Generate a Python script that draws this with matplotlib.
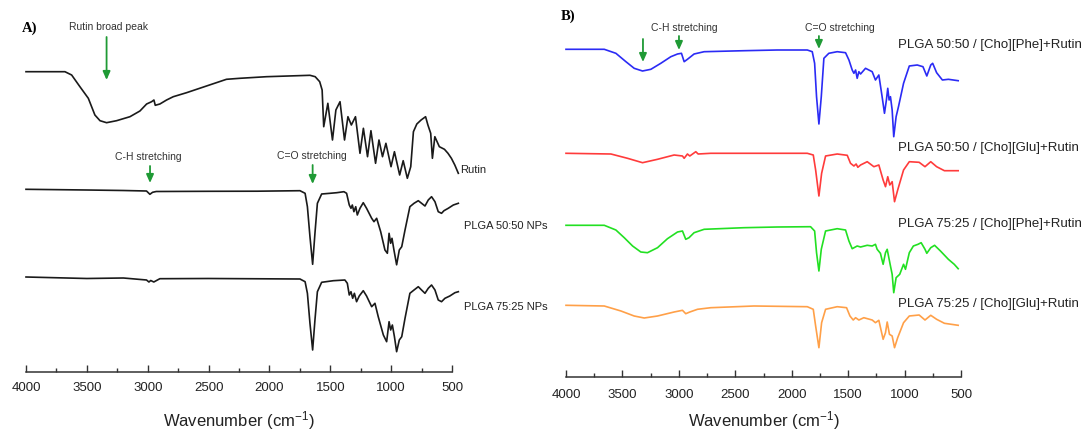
import matplotlib
matplotlib.use('Agg')
import matplotlib.pyplot as plt
from matplotlib.ticker import MultipleLocator

plt.rcParams['font.family'] = ['Liberation Sans', 'DejaVu Sans']
plt.rcParams['mathtext.fontset'] = 'custom'
plt.rcParams['mathtext.rm'] = 'Liberation Sans'
plt.rcParams['mathtext.it'] = 'Liberation Sans:italic'

# spectra: (wavenumber cm-1, depth below baseline, a.u.)
rutin = [
    (4000, 0), (3680, 0), (3625, 3.3), (3557, 15), (3488, 26.6), (3434, 43.3), (3392, 49),
    (3338, 51), (3256, 49), (3146, 45), (3064, 39.3), (3009, 32.3), (2968, 30), (2949, 28.3),
    (2938, 33.6), (2900, 32.3), (2845, 28.3), (2790, 25), (2681, 21), (2517, 14.3), (2353, 7.6),
    (2243, 6.6), (2024, 5), (1667, 3.6), (1624, 5), (1587, 10), (1567, 18.3), (1554, 55),
    (1520, 31.6), (1482, 68.3), (1454, 38.3), (1420, 30), (1383, 68.3), (1355, 45), (1327, 53.3),
    (1293, 45), (1256, 81.6), (1228, 56.6), (1194, 85), (1166, 59), (1128, 91.6), (1100, 68.3),
    (1071, 85), (1043, 71.6), (1001, 95), (973, 80), (930, 103.3), (901, 89), (867, 106.6),
    (839, 95), (817, 60), (789, 52.3), (754, 48.3), (717, 45), (698, 53.3), (675, 61.6),
    (661, 86.6), (641, 65), (604, 75), (562, 77.6), (533, 81.6), (505, 86.6), (477, 93.3),
    (448, 101.6),
]
plga5050 = [
    (4000, 0), (3500, 0.7), (3200, 1.2), (3010, 1.7), (2982, 5), (2960, 3), (2930, 2.2),
    (2500, 2), (2100, 1.9), (1749, 1.4), (1707, 4), (1688, 17.4), (1667, 47.4), (1645, 75),
    (1626, 44), (1606, 14), (1571, 4.7), (1502, 4), (1447, 3.4), (1388, 2.4), (1366, 4),
    (1344, 15.7), (1330, 19), (1319, 15.7), (1306, 22.4), (1291, 17.4), (1278, 25.7), (1256, 19),
    (1229, 13.4), (1202, 19), (1160, 29), (1141, 32.4), (1119, 29), (1086, 42.4), (1051, 60.7),
    (1031, 64), (1017, 44), (1004, 54), (993, 49), (977, 60.7), (955, 75.5), (933, 60.7),
    (913, 57.4), (886, 40.7), (846, 17.4), (812, 14), (777, 11.4), (750, 14), (722, 16.7),
    (695, 10.7), (668, 7.4), (640, 12.4), (613, 22.4), (586, 24), (566, 21.4), (531, 19),
    (489, 15.7), (448, 14),
]
plga7525 = [
    (4000, 0), (3500, 1.5), (3200, 1), (3010, 3), (2990, 5), (2975, 3.5), (2950, 5), (2920, 3),
    (2900, 1.7), (2500, 1.5), (1749, 2), (1707, 4.7), (1688, 16.3), (1667, 46.3), (1645, 73),
    (1626, 43), (1606, 14.7), (1571, 5.3), (1475, 3.7), (1380, 3), (1360, 6.3), (1344, 18),
    (1330, 14.7), (1316, 21.3), (1302, 16.3), (1284, 24.7), (1262, 19), (1229, 13.7), (1202, 19),
    (1160, 29.7), (1133, 26.3), (1106, 39.7), (1064, 58), (1037, 64.7), (1017, 44.7), (1004, 53),
    (990, 48), (973, 59.7), (955, 74.7), (933, 63), (913, 59.7), (886, 41.3), (846, 16.3),
    (812, 13), (777, 9.7), (750, 13), (722, 16.3), (695, 11.3), (668, 8), (640, 13), (613, 23),
    (586, 24.7), (558, 21.3), (518, 19), (476, 15.7), (448, 14.7),
]
phe5050 = [
    (4000, 0), (3661, 0), (3558, 4), (3469, 12.4), (3396, 19), (3322, 21.7), (3248, 20),
    (3160, 14), (3071, 7.4), (3012, 4.7), (2977, 4), (2953, 12.4), (2924, 10), (2865, 4.7),
    (2776, 2.4), (2422, 1.4), (2128, 0.7), (1862, 0.7), (1818, 2.4), (1797, 14), (1780, 47.4),
    (1759, 74.7), (1738, 47.4), (1715, 9), (1671, 4), (1597, 2.4), (1523, 3.4), (1493, 10.7),
    (1464, 20.7), (1449, 24), (1434, 20.7), (1420, 29), (1405, 22.4), (1390, 24.7), (1346, 19),
    (1287, 22.4), (1258, 30.7), (1228, 25.7), (1199, 47.4), (1178, 64), (1161, 50.7), (1149, 39),
    (1137, 50.7), (1125, 47.4), (1110, 60.7), (1096, 87.4), (1075, 67.4), (1054, 57.4),
    (1009, 34), (958, 16.7), (888, 15.7), (837, 17.4), (803, 26.7), (768, 15.7), (751, 14),
    (716, 23.4), (665, 30.7), (612, 30), (525, 31.4),
]
glu5050 = [
    (4000, 0), (3602, 0.7), (3455, 5), (3322, 9.4), (3189, 6), (3042, 1.7), (2968, 2.7),
    (2953, 5), (2924, 0.7), (2903, 2.7), (2850, -1.6), (2829, 0.7), (2717, 0), (1862, 0),
    (1809, 1.7), (1788, 16.7), (1759, 42.7), (1735, 20), (1700, 2.7), (1597, 0.7), (1508, 2),
    (1479, 10), (1449, 12.7), (1429, 10.7), (1414, 14), (1390, 11.7), (1331, 8.4), (1272, 13.4),
    (1228, 11.7), (1190, 26.7), (1169, 33.4), (1149, 23.4), (1131, 31.7), (1110, 28.4),
    (1089, 48.4), (1061, 36.7), (1009, 16.7), (958, 8.4), (871, 9), (819, 13.4), (768, 8.4),
    (716, 13.4), (647, 17.4), (525, 17.4),
]
phe7525 = [
    (4000, 0), (3661, 0), (3558, 4.7), (3484, 12.4), (3410, 20.7), (3337, 26.7), (3278, 27.4),
    (3189, 22.4), (3101, 13.4), (3012, 6.7), (2968, 5.7), (2939, 14), (2910, 12.4), (2865, 7.4),
    (2776, 4), (2423, 2.4), (2128, 1.7), (1833, 1.4), (1797, 5.7), (1780, 27.4), (1759, 45.7),
    (1738, 24), (1700, 5.7), (1597, 3.4), (1523, 4.7), (1493, 15.7), (1464, 23.4), (1420, 20.7),
    (1390, 21.7), (1331, 20), (1287, 20.7), (1258, 19), (1243, 24), (1214, 28), (1190, 39),
    (1169, 27.4), (1154, 24), (1125, 40.7), (1110, 49), (1096, 67.4), (1075, 52.4), (1043, 49),
    (1009, 39), (992, 44), (958, 27.4), (922, 20.7), (881, 19), (853, 17.4), (819, 24),
    (803, 28), (768, 22.4), (734, 20), (682, 25.7), (612, 34), (560, 39), (525, 43.4),
]
glu7525 = [
    (4000, 0), (3661, 0.7), (3513, 5.7), (3396, 10.7), (3307, 12.7), (3189, 10.7), (3042, 6.7),
    (2968, 5), (2939, 8.4), (2903, 6.7), (2835, 4), (2717, 2.4), (2334, 0.7), (1862, 1.4),
    (1809, 4), (1788, 20.7), (1759, 42.4), (1735, 17.4), (1700, 4), (1597, 1.4), (1514, 2.4),
    (1484, 10.7), (1455, 14.7), (1434, 12.4), (1405, 14.7), (1361, 12.4), (1287, 14.7),
    (1258, 17.4), (1228, 15), (1190, 34), (1169, 27.4), (1154, 16.7), (1134, 29), (1110, 30.7),
    (1089, 42.4), (1061, 32.4), (1009, 17.4), (958, 10.7), (871, 9.7), (819, 14.7), (768, 10),
    (716, 14), (647, 18), (525, 20),
]

left_spectra = [rutin, plga5050, plga7525]
left_names = ['Rutin', 'PLGA 50:50 NPs', 'PLGA 75:25 NPs']
left_offsets = [300.3, 182.7, 95]
left_label_x = [430, 400, 400]
left_label_y = [202, 146, 65]

right_spectra = [phe5050, glu5050, phe7525, glu7525]
right_names = ['PLGA 50:50 / [Cho][Phe]+Rutin', 'PLGA 50:50 / [Cho][Glu]+Rutin',
               'PLGA 75:25 / [Cho][Phe]+Rutin', 'PLGA 75:25 / [Cho][Glu]+Rutin']
right_offsets = [327.7, 223.7, 151.7, 71.7]
right_colors = ['#2b2bf5', '#ff3b3b', '#22e022', '#ffa048']
right_label_y = [332, 229, 153, 73]

xticks = [4000, 3500, 3000, 2500, 2000, 1500, 1000, 500]
arrow_green = '#1f9a35'

W, H = 1088, 432
fig = plt.figure(figsize=(W / 100, H / 100), dpi=100)
ax_a = fig.add_axes([26 / W, (H - 372) / H, 426 / W, 372 / H])
ax_b = fig.add_axes([566 / W, (H - 377) / H, 395 / W, 377 / H])


def style_axis(ax, ytop, pad):
    ax.set_xlim(4000, 500)
    ax.set_ylim(0, ytop)
    for side in ['left', 'right', 'top']:
        ax.spines[side].set_visible(False)
    ax.spines['bottom'].set_color('#333333')
    ax.spines['bottom'].set_linewidth(1.1)
    ax.set_yticks([])
    ax.set_xticks(xticks)
    ax.xaxis.set_minor_locator(MultipleLocator(250))
    ax.tick_params(axis='x', which='major', direction='in', length=5, width=1,
                   color='#333333', labelsize=9.5, pad=pad, labelcolor='#222222')
    ax.tick_params(axis='x', which='minor', direction='in', length=3, width=1, color='#333333')
    ax.patch.set_visible(False)


def draw(ax, spec, offset, color, lw):
    wn = [p[0] for p in spec]
    val = [offset - p[1] for p in spec]
    ax.plot(wn, val, color=color, lw=lw, solid_joinstyle='round', clip_on=False)


def mark(ax, x, y0, y1, text=None, ty=None, tx=None):
    ax.annotate('', xy=(x, y1), xytext=(x, y0),
                arrowprops=dict(arrowstyle='-|>,head_length=0.5,head_width=0.22',
                                color=arrow_green, lw=1.3, shrinkA=0, shrinkB=0))
    if text:
        ax.text(x if tx is None else tx, ty, text, ha='center', va='center',
                fontsize=7.5, color='#333333')


# panel A
style_axis(ax_a, 372, 7)
for spec, off in zip(left_spectra, left_offsets):
    draw(ax_a, spec, off, '#1a1a1a', 1.2)
for name, lx, ly in zip(left_names, left_label_x, left_label_y):
    ax_a.text(lx, ly, name, ha='left', va='center', fontsize=8, color='#222222',
              clip_on=False)
ax_a.text(4030, 344, 'A)', fontsize=10.5, fontweight='bold', ha='left', va='center',
          family=['Liberation Serif', 'DejaVu Serif'], clip_on=False)
ax_a.text(3326, 345, 'Rutin broad peak', ha='center', va='center', fontsize=7.5,
          color='#333333')
mark(ax_a, 3338, 335, 292)
mark(ax_a, 2981, 206, 189, 'C-H stretching', 215, 2998)
mark(ax_a, 1645, 207, 188, 'C=O stretching', 216, 1650)

# panel B
style_axis(ax_b, 377, 9)
for spec, off, col in zip(right_spectra, right_offsets, right_colors):
    draw(ax_b, spec, off, col, 1.2)
for name, ly in zip(right_names, right_label_y):
    ax_b.text(1058, ly, name, ha='left', va='center', fontsize=9.5, color='#222222',
              clip_on=False)
ax_b.text(4050, 361, 'B)', fontsize=10.5, fontweight='bold', ha='left', va='center',
          family=['Liberation Serif', 'DejaVu Serif'], clip_on=False)
ax_b.text(2954, 349, 'C-H stretching', ha='center', va='center', fontsize=7.5,
          color='#333333')
ax_b.text(1572, 349, 'C=O stretching', ha='center', va='center', fontsize=7.5,
          color='#333333')
mark(ax_b, 3318, 338, 315)
mark(ax_b, 2999, 341, 327)
mark(ax_b, 1759, 341, 328)

fig.text(239 / W, 1 - 421 / H, 'Wavenumber (cm$^{-1}$)', ha='center', va='center',
         fontsize=12, color='#222222')
fig.text(764 / W, 1 - 421 / H, 'Wavenumber (cm$^{-1}$)', ha='center', va='center',
         fontsize=12, color='#222222')

fig.savefig('out.png', dpi=100)
